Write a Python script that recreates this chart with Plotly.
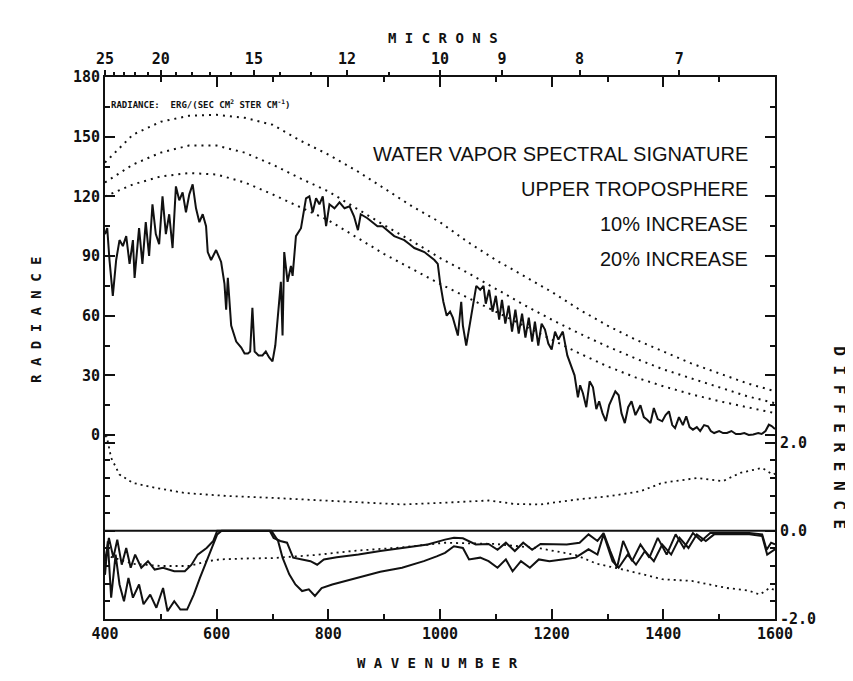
import plotly.graph_objects as go

# ---------------- data ----------------
# measured spectrum (radiance) vs wavenumber
wn_spec = [400, 404, 408, 414, 420, 426, 432, 438, 444, 450, 453, 461, 467, 473, 479, 485, 491, 497,
           503, 509, 515, 521, 527, 533, 539, 545, 551, 557, 563, 569, 575, 581, 584, 590, 599, 608,
           614, 617, 620, 626, 635, 644, 650, 656, 660, 664, 668, 675, 682, 688, 694, 700, 705, 710,
           715, 718, 721, 727, 733, 736, 742, 751, 760, 766, 772, 778, 784, 790, 796, 802, 811, 820,
           829, 838, 846, 853, 858, 870, 880, 888, 897, 906, 918, 927, 936, 945, 954, 963, 972, 981,
           990, 996, 1000, 1006, 1012, 1018, 1023, 1032, 1038, 1041, 1047, 1056, 1065, 1072, 1078,
           1082, 1088, 1094, 1100, 1106, 1111, 1117, 1123, 1129, 1135, 1141, 1147, 1153, 1159, 1165,
           1170, 1176, 1182, 1188, 1194, 1200, 1206, 1212, 1220, 1228, 1235, 1241, 1247, 1251, 1256,
           1262, 1268, 1274, 1280, 1285, 1291, 1297, 1303, 1308, 1314, 1320, 1325, 1331, 1337, 1343,
           1350, 1359, 1365, 1371, 1377, 1383, 1390, 1398, 1404, 1410, 1416, 1421, 1428, 1435, 1441,
           1447, 1453, 1460, 1466, 1473, 1480, 1485, 1491, 1500, 1507, 1514, 1522, 1530, 1538, 1545,
           1553, 1561, 1570, 1576, 1583, 1589, 1594, 1600]
rad_spec = [101, 104, 88, 70, 88, 98, 95, 100, 86, 98, 79, 104, 86, 107, 90, 116, 101, 96,
            120, 101, 111, 94, 125, 118, 122, 112, 121, 126, 114, 107, 111, 105, 92, 88, 93, 87,
            76, 63, 79, 55, 47, 44, 41, 41, 42, 64, 42, 40, 40, 42, 39, 37, 45, 60,
            77, 50, 92, 77, 85, 80, 100, 104, 119, 120, 112, 119, 116, 120, 105, 116, 114, 117,
            114, 115, 110, 103, 111, 109, 107, 105, 105, 103, 100, 99, 98, 96, 94, 93, 92, 90,
            88, 86, 77, 67, 60, 62, 59, 50, 67, 55, 45, 60, 75, 73, 75,
            66, 73, 62, 70, 58, 68, 56, 65, 52, 63, 51, 61, 49, 59, 47,
            57, 45, 56, 53, 46, 43, 52, 48, 52, 40, 35, 30, 19, 25, 21,
            14, 27, 24, 13, 17, 11, 7, 15, 18, 22, 20, 11, 6, 14, 17,
            10, 15, 9, 7.7, 6, 13.6, 8, 6.9, 10, 11.9, 5, 3.5, 9, 5, 9.4,
            4, 2.7, 4, 2, 5, 4.4, 2, 1, 2, 1, 1, 2, 0.5, 0.5, 1,
            0, 0.3, 1, 0.5, 2, 5.2, 4.5, 3]

# smooth reference curves (dotted)
wn_ref = [400, 450, 500, 550, 600, 650, 700, 750, 800, 850, 900, 950, 1000, 1050, 1100, 1150, 1200,
          1250, 1300, 1350, 1400, 1450, 1500, 1550, 1600]
rad_top = [137, 151, 157.5, 160.5, 161, 159.5, 156, 148, 141, 133, 124, 115, 107, 97, 88, 80, 72,
           63, 55, 48, 42, 36, 31, 26, 22]
rad_mid = [127, 136, 142, 145.5, 145.5, 142, 136, 129, 122.5, 114, 105.5, 97.5, 89, 81.5, 73.5, 65.5, 58,
           51, 44.5, 38.5, 33, 28.5, 24, 19.5, 16]
rad_low = [120, 126, 130, 131.7, 131, 127, 121, 114.5, 108, 99.5, 91, 83.5, 76, 69, 62, 55, 48,
           41, 34.5, 29, 24.5, 20.5, 17, 14, 11]

# difference curves
wn_d1 = [400, 403, 411, 426, 450, 489, 543, 621, 698, 776, 854, 932, 1009, 1087, 1134, 1180, 1243,
         1305, 1359, 1398, 1460, 1507, 1538, 1577, 1596, 1600]
diff_d1 = [2.15, 2.15, 1.66, 1.28, 1.09, 0.98, 0.86, 0.79, 0.75, 0.70, 0.65, 0.60, 0.64, 0.69, 0.61,
           0.60, 0.71, 0.79, 0.90, 1.09, 1.20, 1.13, 1.32, 1.43, 1.28, 1.3]

wn_a = [400, 407, 415, 422, 430, 438, 446, 454, 465, 477, 489, 504, 524, 543, 555, 566, 582, 594,
        601, 695, 702, 714, 726, 737, 753, 768, 780, 792, 815, 854, 893, 932, 978, 1009, 1025, 1041,
        1052, 1064, 1087, 1103, 1118, 1134, 1149, 1165, 1180, 1204, 1227, 1250, 1266, 1282, 1293,
        1305, 1317, 1328, 1344, 1359, 1375, 1390, 1406, 1422, 1437, 1453, 1468, 1484, 1515, 1554,
        1577, 1585, 1593, 1600]
diff_a = [-0.70, -0.16, -0.61, -0.20, -0.77, -0.39, -0.84, -0.54, -0.84, -0.69, -0.88, -0.84, -0.92,
          -0.92, -0.77, -0.54, -0.39, -0.23, 0, 0, -0.16, -0.23, -0.27, -0.61, -0.65, -0.69, -0.77,
          -0.65, -0.60, -0.54, -0.46, -0.39, -0.31, -0.20, -0.16, -0.17, -0.23, -0.31, -0.30, -0.43,
          -0.27, -0.46, -0.27, -0.43, -0.30, -0.31, -0.31, -0.27, -0.08, -0.23, -0.05, -0.46, -0.84,
          -0.23, -0.69, -0.31, -0.61, -0.16, -0.54, -0.08, -0.39, -0.05, -0.23, -0.05, -0.05, -0.05,
          -0.08, -0.43, -0.27, -0.31]

wn_b = [400, 405, 411, 419, 426, 434, 442, 450, 461, 469, 481, 492, 504, 512, 524, 535, 547, 559,
        570, 582, 591, 601, 609, 698, 710, 718, 730, 741, 753, 765, 776, 788, 807, 831, 854, 893,
        932, 971, 994, 1009, 1025, 1041, 1052, 1072, 1087, 1103, 1118, 1130, 1145, 1161, 1177, 1196,
        1219, 1243, 1266, 1282, 1293, 1309, 1320, 1336, 1351, 1367, 1383, 1398, 1414, 1429, 1445,
        1460, 1476, 1491, 1522, 1554, 1577, 1586, 1600]
diff_b = [-1.00, -0.24, -1.52, -0.54, -1.22, -1.60, -1.07, -1.52, -1.22, -1.67, -1.45, -1.75, -1.30,
          -1.83, -1.60, -1.79, -1.79, -1.45, -1.07, -0.69, -0.39, -0.08, 0, 0, -0.23, -0.61, -0.99,
          -1.22, -1.37, -1.33, -1.48, -1.30, -1.22, -1.14, -1.07, -0.93, -0.84, -0.69, -0.58, -0.50,
          -0.35, -0.39, -0.65, -0.61, -0.69, -0.84, -0.65, -0.92, -0.69, -0.84, -0.65, -0.69, -0.65,
          -0.61, -0.42, -0.54, -0.08, -0.69, -0.84, -0.54, -0.77, -0.46, -0.69, -0.31, -0.54, -0.16,
          -0.39, -0.08, -0.23, -0.08, -0.08, -0.08, -0.12, -0.54, -0.42]

wn_c = [400, 450, 500, 550, 580, 605, 650, 700, 776, 850, 930, 1009, 1100, 1180, 1243, 1281, 1335,
        1398, 1451, 1514, 1553, 1573, 1590, 1600]
diff_c = [-0.55, -0.75, -0.80, -0.80, -0.70, -0.65, -0.63, -0.62, -0.55, -0.45, -0.38, -0.27, -0.30,
          -0.40, -0.55, -0.75, -0.90, -1.10, -1.14, -1.30, -1.36, -1.45, -1.30, -1.35]

# axis ticks
wn_ticks = [400, 600, 800, 1000, 1200, 1400, 1600]
wn_minor = [500, 700, 900, 1100, 1300, 1500]
micron_major = [25, 20, 15, 12, 10, 9, 8, 7]
micron_minor = [24, 23, 22, 21, 19, 18, 17, 16, 14, 13, 11]
rad_ticks = [0, 30, 60, 90, 120, 150, 180]
rad_minor = [15, 45, 75, 105, 135, 165]
diff_ticks = [-2.0, 0.0, 2.0]
diff_minor = [-1.6, -1.2, -0.8, -0.4, 0.4, 0.8, 1.2, 1.6]

# ---------------- figure ----------------
INK = "#111111"
TICKFONT = dict(family="DejaVu Sans Mono", size=15, color=INK, weight="bold")
fig = go.Figure()

dot = "2px,5px"
for ys in (rad_top, rad_mid, rad_low):
    fig.add_trace(go.Scatter(x=wn_ref, y=ys, mode="lines", xaxis="x", yaxis="y",
                             line=dict(color=INK, width=2, dash=dot), showlegend=False,
                             hoverinfo="skip"))
fig.add_trace(go.Scatter(x=wn_spec, y=rad_spec, mode="lines", xaxis="x", yaxis="y",
                         line=dict(color=INK, width=2), showlegend=False))

fig.add_trace(go.Scatter(x=wn_d1, y=diff_d1, mode="lines", xaxis="x", yaxis="y2",
                         line=dict(color=INK, width=1.8, dash="2px,4px"), showlegend=False))
fig.add_trace(go.Scatter(x=wn_c, y=diff_c, mode="lines", xaxis="x", yaxis="y2",
                         line=dict(color=INK, width=1.8, dash="2px,4px"), showlegend=False))
fig.add_trace(go.Scatter(x=wn_a, y=diff_a, mode="lines", xaxis="x", yaxis="y2",
                         line=dict(color=INK, width=2), showlegend=False))
fig.add_trace(go.Scatter(x=wn_b, y=diff_b, mode="lines", xaxis="x", yaxis="y2",
                         line=dict(color=INK, width=2), showlegend=False))
# invisible trace to activate the micron axis
fig.add_trace(go.Scatter(x=[400, 1600], y=[0, 0], mode="lines", xaxis="x2", yaxis="y",
                         line=dict(width=0), opacity=0, showlegend=False, hoverinfo="skip"))

# zero-difference line
fig.add_shape(type="line", xref="x", yref="y2", x0=400, x1=1600, y0=0, y1=0,
              line=dict(color=INK, width=2))

fig.update_layout(
    width=853, height=681,
    margin=dict(l=97, r=86, t=69, b=70),
    paper_bgcolor="white", plot_bgcolor="white",
    showlegend=False,
    xaxis=dict(range=[400, 1600], tickmode="array", tickvals=wn_ticks,
               ticktext=[str(v) for v in wn_ticks], ticks="inside", ticklen=10, tickwidth=1.5,
               tickcolor=INK, showline=True, linecolor=INK, linewidth=2, mirror="ticks",
               showgrid=False, zeroline=False, tickfont=TICKFONT,
               minor=dict(tickmode="array", tickvals=wn_minor, ticks="inside", ticklen=5,
                          tickwidth=1.5, tickcolor=INK, showgrid=False)),
    xaxis2=dict(range=[400, 1600], overlaying="x", side="top", tickmode="array",
                tickvals=[10000 / m for m in micron_major],
                ticktext=[str(m) for m in micron_major], ticks="outside", ticklen=6,
                tickwidth=1.5, tickcolor=INK, showline=False, showgrid=False, zeroline=False,
                tickfont=TICKFONT,
                minor=dict(tickmode="array", tickvals=[10000 / m for m in micron_minor],
                           ticks="outside", ticklen=4, tickwidth=1.5, tickcolor=INK,
                           showgrid=False)),
    yaxis=dict(range=[-92.5, 180], tickmode="array", tickvals=rad_ticks,
               ticktext=[str(v) for v in rad_ticks], ticks="inside", ticklen=10, tickwidth=1.5,
               tickcolor=INK, showline=True, linecolor=INK, linewidth=2, mirror="ticks",
               showgrid=False, zeroline=False, tickfont=TICKFONT,
               minor=dict(tickmode="array", tickvals=rad_minor, ticks="inside", ticklen=5,
                          tickwidth=1.5, tickcolor=INK, showgrid=False)),
    yaxis2=dict(range=[-2.005, 10.32], overlaying="y", side="right", tickmode="array",
                tickvals=diff_ticks, ticktext=["%.1f" % v for v in diff_ticks], ticks="inside",
                ticklen=10, tickwidth=1.5, tickcolor=INK, showline=True, linecolor=INK,
                linewidth=2, mirror="ticks", showgrid=False, zeroline=False, tickfont=TICKFONT,
                minor=dict(tickmode="array", tickvals=diff_minor, ticks="inside", ticklen=5,
                           tickwidth=1.5, tickcolor=INK, showgrid=False)),
)

TITLEFONT = dict(family="DejaVu Sans Mono", size=14, color=INK, weight="bold")
LABELFONT = dict(family="Liberation Sans, Arial", size=20, color=INK)
annots = [
    dict(text="M I C R O N S", x=0.5045, y=1.09, xref="paper", yref="paper",
         showarrow=False, font=TITLEFONT),
    dict(text="W A V E N U M B E R", x=0.497, y=-0.10, xref="paper", yref="paper",
         showarrow=False, font=TITLEFONT),
    dict(text="R A D I A N C E", x=-0.118, y=0.6716, xref="paper", yref="paper",
         showarrow=False, font=TITLEFONT, textangle=-90),
    dict(text="D I F F E R E N C E", x=1.1134, y=0.162, xref="paper", yref="paper",
         showarrow=False, font=dict(family="DejaVu Sans Mono", size=16, color=INK, weight="bold"),
         textangle=90),
    dict(text="WATER VAPOR SPECTRAL SIGNATURE", x=0.9627, y=0.882, xref="paper", yref="paper",
         xanchor="right", showarrow=False, font=LABELFONT),
    dict(text="UPPER TROPOSPHERE", x=0.9627, y=0.817, xref="paper", yref="paper",
         xanchor="right", showarrow=False, font=LABELFONT),
    dict(text="10% INCREASE", x=0.9627, y=0.753, xref="paper", yref="paper",
         xanchor="right", showarrow=False, font=LABELFONT),
    dict(text="20% INCREASE", x=0.9627, y=0.688, xref="paper", yref="paper",
         xanchor="right", showarrow=False, font=LABELFONT),
    dict(text="RADIANCE:  ERG/(SEC CM<sup>2</sup> STER CM<sup>-1</sup>)", x=0.006, y=0.965,
         xref="paper", yref="paper", xanchor="left", showarrow=False,
         font=dict(family="DejaVu Sans Mono", size=9, color=INK, weight="bold")),
]
fig.update_layout(annotations=annots)

fig.write_html("out.html")
